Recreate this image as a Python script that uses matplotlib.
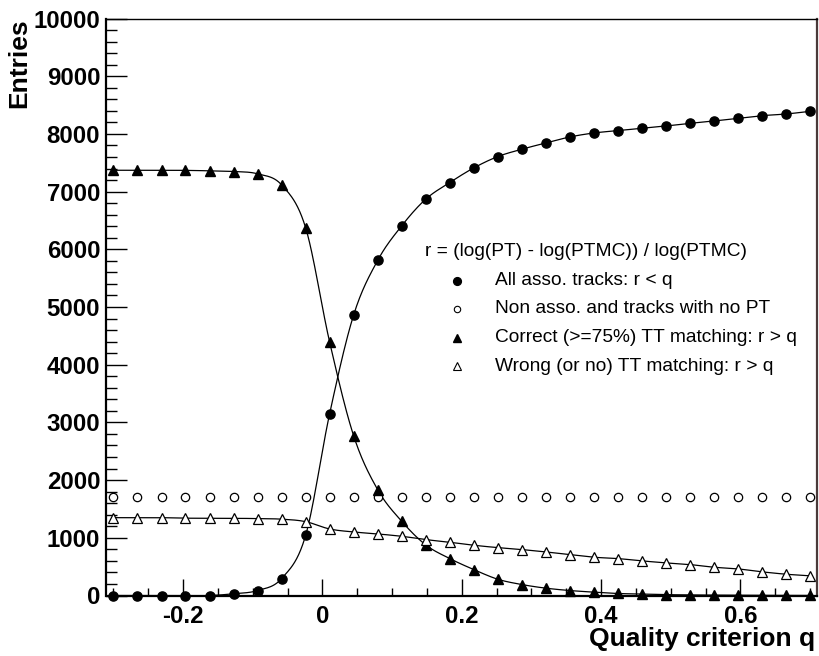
import numpy as np
import matplotlib
matplotlib.use("Agg")
import matplotlib.pyplot as plt
from matplotlib.ticker import MultipleLocator
from matplotlib.lines import Line2D

# ---------------- data ----------------
q_values = [-0.3, -0.2655, -0.2310, -0.1966, -0.1621, -0.1276, -0.0931, -0.0586,
            -0.0241, 0.0103, 0.0448, 0.0793, 0.1138, 0.1483, 0.1828, 0.2172,
            0.2517, 0.2862, 0.3207, 0.3552, 0.3897, 0.4241, 0.4586, 0.4931,
            0.5276, 0.5621, 0.5966, 0.6310, 0.6655, 0.7]

all_asso = [0, 0, 0, 0, 0, 30, 86, 294, 1043, 3149, 4862, 5808, 6407, 6869,
            7157, 7410, 7607, 7734, 7843, 7947, 8016, 8057, 8097, 8137, 8183,
            8224, 8270, 8316, 8345, 8391]

non_asso = [1700, 1700, 1700, 1700, 1700, 1700, 1700, 1700, 1700, 1700,
            1700, 1700, 1700, 1700, 1700, 1700, 1700, 1700, 1700, 1700,
            1700, 1700, 1700, 1700, 1700, 1700, 1700, 1700, 1700, 1700]

correct_tt = [7370, 7370, 7370, 7368, 7360, 7348, 7308, 7116, 6372, 4394,
              2768, 1834, 1286, 877, 640, 450, 282, 190, 127, 86, 58, 35,
              25, 15, 10, 7, 5, 3, 2, 1]

wrong_tt = [1349, 1349, 1349, 1340, 1340, 1338, 1333, 1323, 1280, 1153,
            1101, 1067, 1026, 969, 923, 871, 830, 796, 755, 709, 663, 640,
            600, 565, 536, 490, 461, 410, 369, 341]

legend_header = "r = (log(PT) - log(PTMC)) / log(PTMC)"
legend_labels = ["All asso. tracks: r < q",
                 "Non asso. and tracks with no PT",
                 "Correct (>=75%) TT matching: r > q",
                 "Wrong (or no) TT matching: r > q"]
x_label = "Quality criterion q"
y_label = "Entries"


def smooth_curve(x, y, n=24):
    """Cubic Hermite (Catmull-Rom style) curve through the data points."""
    x = np.asarray(x, float)
    y = np.asarray(y, float)
    m = np.gradient(y, x)
    xs, ys = [], []
    for i in range(len(x) - 1):
        h = x[i + 1] - x[i]
        t = np.linspace(0, 1, n, endpoint=False)
        h00 = 2 * t**3 - 3 * t**2 + 1
        h10 = t**3 - 2 * t**2 + t
        h01 = -2 * t**3 + 3 * t**2
        h11 = t**3 - t**2
        xs.append(x[i] + t * h)
        ys.append(h00 * y[i] + h10 * h * m[i] + h01 * y[i + 1] + h11 * h * m[i + 1])
    xs.append([x[-1]])
    ys.append([y[-1]])
    return np.concatenate(xs), np.concatenate(ys)


plt.rcParams['font.family'] = ['Liberation Sans', 'DejaVu Sans']

W, H = 820, 656
fig = plt.figure(figsize=(W / 100, H / 100), dpi=100)
L, R, T, B = 106.5, 817, 18.5, 595.5
ax = fig.add_axes([L / W, 1 - B / H, (R - L) / W, (B - T) / H])

ax.set_xlim(-0.31, 0.71)
ax.set_ylim(0, 10000)

lw = 0.9
for ys in (all_asso, correct_tt, wrong_tt):
    cx, cy = smooth_curve(q_values, ys)
    ax.plot(cx, cy, color='black', lw=lw, zorder=2)

ms = 6.6
ax.plot(q_values, all_asso, 'o', color='black', ms=ms, clip_on=False, zorder=3)
ax.plot(q_values, non_asso, 'o', mfc='white', mec='black', mew=0.9, ms=6.0,
        clip_on=False, zorder=3)
ax.plot(q_values, correct_tt, '^', color='black', ms=7.2, clip_on=False, zorder=3)
ax.plot(q_values, wrong_tt, '^', mfc='white', mec='black', mew=0.9, ms=7.6,
        clip_on=False, zorder=3)

# axes styling (ROOT-like)
ax.xaxis.set_major_locator(MultipleLocator(0.2))
ax.xaxis.set_minor_locator(MultipleLocator(0.05))
ax.yaxis.set_major_locator(MultipleLocator(1000))
ax.yaxis.set_minor_locator(MultipleLocator(200))
ax.tick_params(axis='y', which='major', direction='in', length=15, width=1.0,
               labelsize=17.3, pad=4.5, right=False)
ax.tick_params(axis='y', which='minor', direction='in', length=8, width=1.0,
               right=False)
ax.tick_params(axis='x', which='major', direction='in', length=12, width=1.0,
               labelsize=17.3, pad=7, top=False)
ax.tick_params(axis='x', which='minor', direction='in', length=6, width=1.0,
               top=False)
for lab in ax.get_xticklabels() + ax.get_yticklabels():
    lab.set_fontweight('bold')

def fmt_x(v, pos):
    if abs(v) < 1e-9:
        return "0"
    return f"{v:.1f}"
ax.xaxis.set_major_formatter(matplotlib.ticker.FuncFormatter(fmt_x))

ax.spines['left'].set_linewidth(1.6)
ax.spines['bottom'].set_linewidth(1.6)
ax.spines['top'].set_linewidth(1.0)
ax.spines['right'].set_linewidth(1.6)
ax.spines['right'].set_color('#4a3a3a')

# axis titles
fig.text(19 / W, 1 - 18 / H, y_label, rotation=90, ha='center', va='top',
         fontsize=19, fontweight='bold')
fig.text(815 / W, 1 - 646 / H, x_label, ha='right', va='baseline',
         fontsize=19, fontweight='bold')

# legend (drawn manually, ROOT TLegend style)
fig.text(425 / W, 1 - 252 / H, legend_header, ha='left', va='center', fontsize=13.8)
row_y = [280.5, 309, 337.5, 366]
styles = [dict(marker='o', color='black', ms=5.6),
          dict(marker='o', mfc='white', mec='black', mew=0.8, ms=4.6),
          dict(marker='^', color='black', ms=5.2),
          dict(marker='^', mfc='white', mec='black', mew=0.8, ms=5.4)]
for yy, lab, st in zip(row_y, legend_labels, styles):
    fig.add_artist(Line2D([457 / W], [1 - yy / H], linestyle='none',
                          transform=fig.transFigure, **st))
    fig.text(495 / W, 1 - yy / H, lab, ha='left', va='center', fontsize=13.8)

fig.savefig("out.png", dpi=100)
